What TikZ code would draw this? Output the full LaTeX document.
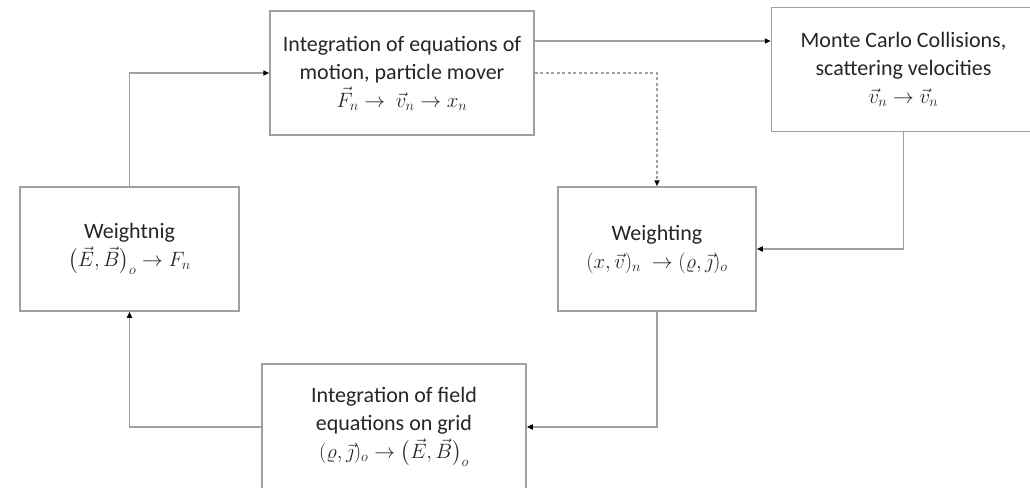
\documentclass[tikz,border=0pt]{standalone}
\usepackage{amsmath}
\usepackage{fontspec}
\setmainfont{Carlito}
\usetikzlibrary{arrows.meta, positioning}

\definecolor{edgegray}{HTML}{A0A0A0}
\definecolor{textgray}{HTML}{262626}

\begin{document}
\begin{tikzpicture}[
  x=1pt, y=1pt,
  box/.style={rectangle, draw=edgegray, line width=1.5pt, fill=white,
               minimum height=124pt, minimum width=264pt, inner sep=0pt,
               font=\fontsize{22}{28}\selectfont, text=textgray, align=center},
  arr/.style={-{Triangle[length=6pt, width=5pt, black]}, edgegray, line width=1.5pt},
  dotarr/.style={arr, dash pattern=on 3pt off 2.5pt},
]
\useasboundingbox (0,0) rectangle (1030,-487);
\clip (0,0) rectangle (1030,-487);

\node[box] (mover) at (402,-73) {Integration of equations of\\motion, particle mover\\$\vec{F}_n \rightarrow\ \vec{v}_n \rightarrow x_n$};
\node[box, right=236pt of mover, yshift=3.5pt] (mcc) {Monte Carlo Collisions,\\scattering velocities\\$\vec{v}_n \rightarrow \vec{v}_n$};
\node[box, minimum width=219pt] (wleft) at (129.5,-249) {Weightnig\\$\bigl(\vec{E},\vec{B}\bigr)_o \rightarrow F_n$};
\node[box, minimum width=198pt] (wright) at (657,-249) {Weighting\\$(x,\vec{v})_n\ \rightarrow (\varrho,\vec{\jmath})_o$};
\node[box, minimum height=126pt] (field) at (394,-427) {Integration of field\\equations on grid\\$(\varrho,\vec{\jmath})_o \rightarrow \bigl(\vec{E},\vec{B}\bigr)_o$};

\draw[arr] ([yshift=32pt]mover.east) -- ([yshift=32pt]mover.east -| mcc.west);
\draw[dotarr] (mover.east) -| (wright.north);
\draw[arr] (mcc.south) |- (wright.east);
\draw[arr] (wright.south) |- (field.east);
\draw[arr] (field.west) -| (wleft.south);
\draw[arr] (wleft.north) |- (mover.west);
\end{tikzpicture}
\end{document}
